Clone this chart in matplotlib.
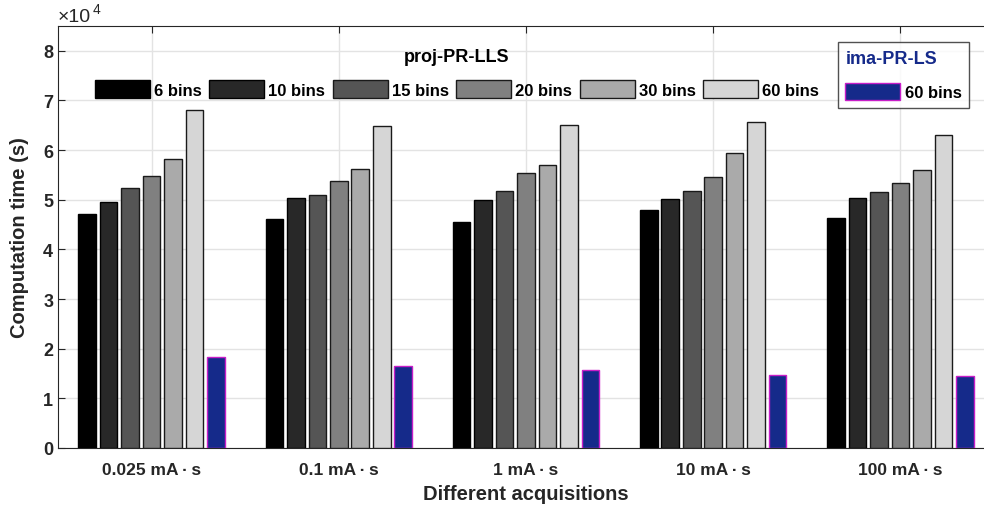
import numpy as np
import matplotlib
matplotlib.use("Agg")
import matplotlib.pyplot as plt
from matplotlib.patches import Patch

plt.rcParams['font.family'] = ['Liberation Sans', 'DejaVu Sans']
plt.rcParams['font.weight'] = 'bold'

# data (units of 1e4 s)
acquisitions = ["0.025 mA\u2009\u00b7\u2009s", "0.1 mA\u2009\u00b7\u2009s", "1 mA\u2009\u00b7\u2009s",
                "10 mA\u2009\u00b7\u2009s", "100 mA\u2009\u00b7\u2009s"]
bins_labels = ["6 bins", "10 bins", "15 bins", "20 bins", "30 bins", "60 bins"]
proj_6 = [4.72, 4.62, 4.56, 4.80, 4.64]
proj_10 = [4.96, 5.04, 4.99, 5.02, 5.04]
proj_15 = [5.24, 5.10, 5.17, 5.17, 5.16]
proj_20 = [5.48, 5.38, 5.53, 5.46, 5.34]
proj_30 = [5.83, 5.62, 5.71, 5.94, 5.60]
proj_60 = [6.81, 6.48, 6.50, 6.56, 6.30]
ima_60 = [1.83, 1.65, 1.57, 1.47, 1.45]

grays = ['#000000', '#282828', '#555555', '#808080', '#aaaaaa', '#d6d6d6']
edges = ['#000000', '#000000', '#1a1a1a', '#1a1a1a', '#1a1a1a', '#1a1a1a']
blue = '#152a8a'
magenta = '#c81ec8'
dark = '#262626'

fig = plt.figure(figsize=(9.84, 5.10), dpi=100)
ax = fig.add_axes([58/984, 61/510, 936/984, 422/510])

x = np.arange(1, 6)
step = 0.1147
width = 0.094
proj = [proj_6, proj_10, proj_15, proj_20, proj_30, proj_60]
for i, vals in enumerate(proj):
    ax.bar(x + (i - 3) * step, vals, width, color=grays[i], edgecolor=edges[i], linewidth=1, zorder=3)
ax.bar(x + 3 * step, ima_60, width, color=blue, edgecolor=magenta, linewidth=1, zorder=3)

ax.set_xlim(0.5, 5.5)
ax.set_ylim(0, 8.5)
ax.set_yticks(range(0, 9))
ax.set_xticks(x)
ax.set_xticklabels(acquisitions, fontsize=12.5, fontweight='bold', color=dark)
ax.tick_params(axis='y', labelsize=13, colors=dark, direction='in', length=5)
ax.tick_params(axis='x', direction='in', length=5, top=True, pad=10, colors=dark)
for lab in ax.get_yticklabels():
    lab.set_fontweight('bold')
ax.grid(True, color='#e3e3e3', linewidth=1, zorder=0)
ax.set_axisbelow(True)
for s in ['left', 'bottom', 'top']:
    ax.spines[s].set_color(dark)
ax.spines['right'].set_visible(False)

ax.set_xlabel("Different acquisitions", fontsize=14.5, fontweight='bold', color=dark, labelpad=5)
ax.set_ylabel("Computation time (s)", fontsize=14.5, fontweight='bold', color=dark, labelpad=10)
fig.text(58/984, 1 - 18/510, "\u00d710", fontsize=14, fontweight='normal', color=dark, va='center')
fig.text(93/984, 1 - 10/510, "4", fontsize=10, fontweight='normal', color=dark, va='center')

handles = [Patch(facecolor=grays[i], edgecolor=edges[i]) for i in range(6)]
leg1 = ax.legend(handles, bins_labels, ncol=6, loc='center',
                 bbox_to_anchor=((457 - 58) / 936, (449 - 74) / 422),
                 frameon=False, title="proj-PR-LLS", handlelength=3.3, handleheight=1.2,
                 handletextpad=0.25, columnspacing=0.45, borderpad=0.2, labelspacing=0.9,
                 prop={'weight': 'bold', 'size': 12})
leg1.get_title().set_fontweight('bold')
leg1.get_title().set_fontsize(13)
ax.add_artist(leg1)

leg2 = ax.legend([Patch(facecolor=blue, edgecolor=magenta)], ["60 bins"], loc='upper left',
                 bbox_to_anchor=((838 - 58) / 936, (449 - 43) / 422), borderaxespad=0,
                 frameon=True, fancybox=False,
                 title="ima-PR-LS", handlelength=3.3, handleheight=1.2, handletextpad=0.25,
                 borderpad=0.45, labelspacing=1.0, prop={'weight': 'bold', 'size': 12})
leg2.get_frame().set_edgecolor(dark)
leg2.get_frame().set_linewidth(1)
leg2.get_title().set_color(blue)
leg2.get_title().set_fontweight('bold')
leg2.get_title().set_fontsize(13)
leg2._legend_box.align = 'left'

fig.savefig("out.png", dpi=100)
